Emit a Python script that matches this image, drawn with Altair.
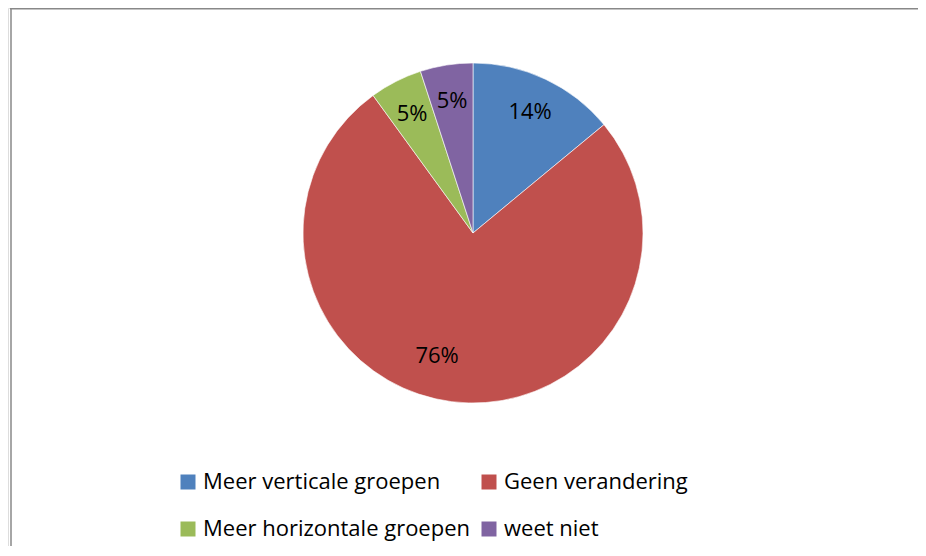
import altair as alt
import pandas as pd

categories = ["Meer verticale groepen", "Geen verandering", "Meer horizontale groepen", "weet niet"]
values = [14, 76, 5, 5]
labels = ["14%", "76%", "5%", "5%"]
colors = ["#4F81BD", "#C0504D", "#9BBB59", "#8064A2"]

# legend is laid out column by column: order the domain so rows read as in the reference
legend_order = [categories[0], categories[2], categories[1], categories[3]]
legend_colors = [colors[0], colors[2], colors[1], colors[3]]

df = pd.DataFrame({
    "cat": categories,
    "val": values,
    "label": labels,
    "ord": list(range(len(categories))),
})
total = sum(values)

FONT = "Open Sans"
CX, CY, R = 465, 225, 170
theta_scale = alt.Scale(domain=[0, total])

pie = alt.Chart(df).mark_arc(outerRadius=R, stroke="white", strokeWidth=0.6).encode(
    theta=alt.Theta("val:Q", stack=True, scale=theta_scale),
    order=alt.Order("ord:Q"),
    x=alt.value(CX),
    y=alt.value(CY),
    color=alt.Color(
        "cat:N",
        scale=alt.Scale(domain=legend_order, range=legend_colors),
        legend=alt.Legend(
            title=None,
            orient="none",
            legendX=169,
            legendY=463,
            columns=2,
            symbolType="square",
            symbolSize=225,
            symbolStrokeWidth=0,
            symbolOpacity=1,
            labelFont=FONT,
            labelFontSize=22,
            labelColor="black",
            labelOffset=4,
            labelLimit=400,
            columnPadding=7,
            rowPadding=25,
        ),
    ),
)

text_base = (
    alt.Chart(df)
    .transform_window(cum="sum(val)", sort=[alt.SortField("ord")])
    .transform_calculate(mid="datum.cum - datum.val / 2")
)

text_small = text_base.transform_filter("datum.val < 50").mark_text(
    radius=134, font=FONT, fontSize=22, color="black"
).encode(
    theta=alt.Theta("mid:Q", stack=None, scale=theta_scale),
    x=alt.value(CX), y=alt.value(CY), text="label:N",
)

text_big = text_base.transform_filter("datum.val >= 50").mark_text(
    radius=135, font=FONT, fontSize=22, color="black", dx=-19, dy=-11
).encode(
    theta=alt.Theta("mid:Q", stack=None, scale=theta_scale),
    x=alt.value(CX), y=alt.value(CY), text="label:N",
)

border_data = alt.Data(values=[{"a": 1}])
top_line = alt.Chart(border_data).mark_rule(color="#888888", strokeWidth=1.5).encode(
    x=alt.value(2), x2=alt.value(910), y=alt.value(0.75)
)
left_line = alt.Chart(border_data).mark_rule(color="#888888", strokeWidth=1.5).encode(
    x=alt.value(3), y=alt.value(0), y2=alt.value(538)
)

chart = alt.layer(top_line, left_line, pie, text_small, text_big).properties(
    width=910,
    height=538,
    autosize=alt.AutoSizeParams(type="none"),
    padding=0,
).configure_view(stroke=None).configure(background="white")

chart.save("out.html", embed_options={"renderer": "svg", "actions": False})
